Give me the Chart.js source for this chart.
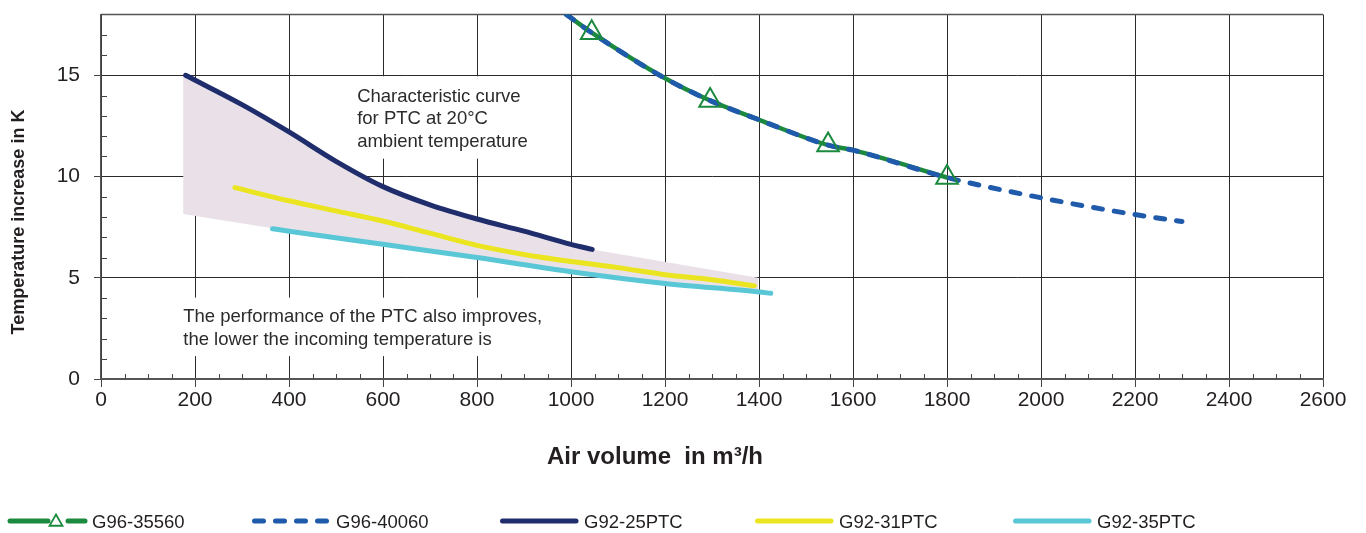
<!DOCTYPE html>
<html>
<head>
<meta charset="utf-8">
<script src="https://cdn.jsdelivr.net/npm/chart.js@4/dist/chart.umd.min.js"></script>
<style>
    html, body { margin: 0; padding: 0; background: #fff; }
    #wrap { width: 1366px; height: 533px; position: relative; }
</style>
</head>
<body>
<div id="wrap"><canvas id="ptcChart"></canvas></div>
<script>
// axis ticks
const xTicks = [0, 200, 400, 600, 800, 1000, 1200, 1400, 1600, 1800, 2000, 2200, 2400, 2600];
const yTicks = [0, 5, 10, 15];

// series (air volume m3/h, temperature increase K)
const g9635560X = [990, 1044, 1200, 1296, 1400, 1547, 1600, 1800];
const g9635560Y = [18.0, 17.1, 14.85, 13.75, 12.8, 11.55, 11.3, 9.95];
const g9635560Marks = [1044, 1296, 1547, 1800];

const g9640060X = [990, 1044, 1200, 1296, 1400, 1547, 1600, 1800, 2000, 2200, 2300];
const g9640060Y = [18.0, 17.1, 14.85, 13.75, 12.8, 11.55, 11.3, 9.95, 8.95, 8.12, 7.78];

const g9225X = [180, 300, 400, 500, 600, 700, 800, 900, 1000, 1045];
const g9225Y = [15.0, 13.55, 12.2, 10.75, 9.5, 8.6, 7.9, 7.3, 6.65, 6.4];

const g9231X = [285, 400, 500, 600, 700, 800, 900, 1000, 1100, 1200, 1300, 1390];
const g9231Y = [9.45, 8.8, 8.3, 7.8, 7.2, 6.6, 6.15, 5.8, 5.5, 5.15, 4.9, 4.6];

const g9235X = [365, 400, 600, 800, 1000, 1200, 1400, 1425];
const g9235Y = [7.42, 7.3, 6.65, 6.0, 5.3, 4.72, 4.3, 4.23];

// shaded band (PTC characteristic area), outline going round
const bandX = [175, 180, 300, 400, 500, 600, 700, 800, 900, 1000, 1045, 1398, 1398, 1200, 1000, 800, 600, 365, 175];
const bandY = [15.0, 15.0, 13.55, 12.2, 10.75, 9.5, 8.6, 7.9, 7.3, 6.65, 6.4, 5.0, 4.4, 4.75, 5.3, 6.05, 6.7, 7.45, 8.15];

const toPoints = (xs, ys) => xs.map((v, i) => ({ x: v, y: ys[i] }));

const GREEN = '#1b8a3e';
const BLUE = '#1f5aab';
const NAVY = '#1f2d6c';
const YELLOW = '#ebe521';
const CYAN = '#5ac7d7';
const GRID = '#2a2a2a';
const TEXT = '#231f20';
const FONT = '"Liberation Sans", Arial, sans-serif';

const notes = [
    { x: 545, y: 13.7, lh: 22.5, lines: ['Characteristic curve', 'for PTC at 20°C', 'ambient temperature'],
      box: [530, 935, 14.95, 10.88] },
    { x: 175, y: 2.81, lh: 23.3, lines: ['The performance of the PTC also improves,', 'the lower the incoming temperature is'],
      box: [157, 966, 4.02, 1.13] }
];

const legendItems = [
    { label: 'G96-35560', color: GREEN, left: 8, marker: true },
    { label: 'G96-40060', color: BLUE, left: 252, dash: [9, 12] },
    { label: 'G92-25PTC', color: NAVY, left: 500 },
    { label: 'G92-31PTC', color: YELLOW, left: 755 },
    { label: 'G92-35PTC', color: CYAN, left: 1013 }
];

const chartDecor = {
    id: 'chartDecor',
    beforeDatasetsDraw(chart) {
        const { ctx, chartArea: a, scales: { x, y } } = chart;
        ctx.save();
        // blank the grid behind the notes
        ctx.fillStyle = '#fff';
        notes.forEach(n => {
            const l = x.getPixelForValue(n.box[0]), r = x.getPixelForValue(n.box[1]);
            const t = y.getPixelForValue(n.box[2]), b = y.getPixelForValue(n.box[3]);
            ctx.fillRect(l, t, r - l, b - t);
        });
        // minor ticks, pointing inwards
        ctx.strokeStyle = '#444';
        ctx.lineWidth = 1;
        ctx.beginPath();
        for (let v = 50; v < 2600; v += 50) {
            if (v % 200 === 0) continue;
            const px = Math.round(x.getPixelForValue(v)) + 0.5;
            ctx.moveTo(px, a.bottom);
            ctx.lineTo(px, a.bottom - 5);
        }
        for (let v = 1; v < 18; v++) {
            if (v % 5 === 0) continue;
            const py = Math.round(y.getPixelForValue(v)) + 0.5;
            ctx.moveTo(a.left, py);
            ctx.lineTo(a.left + 6, py);
        }
        ctx.stroke();
        // top frame
        ctx.strokeStyle = '#555';
        ctx.lineWidth = 1.5;
        ctx.beginPath();
        ctx.moveTo(a.left, a.top);
        ctx.lineTo(a.right, a.top);
        ctx.stroke();
        // notes
        ctx.fillStyle = '#2b2b2b';
        ctx.font = '18.5px ' + FONT;
        ctx.textBaseline = 'alphabetic';
        ctx.textAlign = 'left';
        notes.forEach(n => {
            const px = x.getPixelForValue(n.x), py = y.getPixelForValue(n.y);
            n.lines.forEach((s, i) => ctx.fillText(s, px, py + i * n.lh));
        });
        ctx.restore();
    },
    afterDraw(chart) {
        const { ctx } = chart;
        // axis titles
        ctx.save();
        ctx.fillStyle = TEXT;
        ctx.textAlign = 'center';
        ctx.textBaseline = 'middle';
        ctx.font = 'bold 24px ' + FONT;
        ctx.fillText('Air volume  in m³/h', 655, 457);
        ctx.font = 'bold 18px ' + FONT;
        ctx.translate(19, 222);
        ctx.rotate(-Math.PI / 2);
        ctx.fillText('Temperature increase in K', 0, 0);
        ctx.restore();

        // legend
        ctx.save();
        const ly = 521;
        ctx.lineWidth = 5;
        ctx.lineCap = 'round';
        legendItems.forEach(it => {
            ctx.strokeStyle = it.color;
            ctx.setLineDash(it.dash || []);
            ctx.beginPath();
            if (it.marker) {
                ctx.moveTo(it.left + 2, ly);
                ctx.lineTo(it.left + 40, ly);
                ctx.moveTo(it.left + 60, ly);
                ctx.lineTo(it.left + 77, ly);
                ctx.stroke();
                const cx = it.left + 48, cy = ly + 1, r = 7.5;
                ctx.lineWidth = 1.8;
                ctx.lineCap = 'butt';
                ctx.beginPath();
                for (let k = 0; k < 3; k++) {
                    const ang = k * 2 * Math.PI / 3;
                    const px = cx + Math.sin(ang) * r, py = cy - Math.cos(ang) * r;
                    if (k === 0) ctx.moveTo(px, py); else ctx.lineTo(px, py);
                }
                ctx.closePath();
                ctx.stroke();
                ctx.lineWidth = 5;
                ctx.lineCap = 'round';
            } else {
                ctx.moveTo(it.left + 2.5, ly);
                ctx.lineTo(it.left + 76, ly);
                ctx.stroke();
            }
            ctx.setLineDash([]);
            ctx.fillStyle = TEXT;
            ctx.font = '18.5px ' + FONT;
            ctx.textAlign = 'left';
            ctx.textBaseline = 'middle';
            ctx.fillText(it.label, it.left + 84, ly + 2);
        });
        ctx.restore();
    }
};

const lineSet = (label, xs, ys, color, order, extra) => Object.assign({
    label: label,
    data: toPoints(xs, ys),
    borderColor: color,
    backgroundColor: color,
    borderWidth: 5,
    borderCapStyle: 'round',
    pointRadius: 0,
    showLine: true,
    cubicInterpolationMode: 'monotone',
    order: order
}, extra || {});

new Chart(document.getElementById('ptcChart'), {
    type: 'scatter',
    data: {
        datasets: [
            {
                label: 'band',
                data: toPoints(bandX, bandY),
                showLine: true,
                borderWidth: 0,
                borderColor: 'rgba(0,0,0,0)',
                backgroundColor: '#e9e1e7',
                fill: 'shape',
                pointRadius: 0,
                tension: 0,
                order: 9
            },
            lineSet('G96-35560', g9635560X, g9635560Y, GREEN, 8, { borderWidth: 4.5 }),
            lineSet('G96-40060', g9640060X, g9640060Y, BLUE, 7, { borderDash: [9, 12] }),
            lineSet('G92-25PTC', g9225X, g9225Y, NAVY, 6),
            lineSet('G92-31PTC', g9231X, g9231Y, YELLOW, 5),
            lineSet('G92-35PTC', g9235X, g9235Y, CYAN, 4),
            {
                label: 'G96-35560 markers',
                data: toPoints(g9635560X, g9635560Y),
                showLine: false,
                pointStyle: 'triangle',
                pointRadius: g9635560X.map(v => g9635560Marks.includes(v) ? 12.5 : 0),
                pointBorderColor: GREEN,
                pointBackgroundColor: 'rgba(0,0,0,0)',
                pointBorderWidth: 2,
                order: 1
            }
        ]
    },
    options: {
        responsive: true,
        maintainAspectRatio: false,
        animation: false,
        events: [],
        layout: {
            padding: { left: 0, right: 43, top: 12, bottom: 54 }
        },
        plugins: {
            legend: { display: false },
            tooltip: { enabled: false },
            title: { display: false }
        },
        scales: {
            x: {
                type: 'linear',
                min: 0,
                max: 2600,
                afterBuildTicks: scale => { scale.ticks = xTicks.map(v => ({ value: v })); },
                afterFit: scale => {
                    scale.height = 100;
                    scale.paddingLeft = 0;
                    scale.paddingRight = 0;
                },
                grid: {
                    color: GRID,
                    lineWidth: 1,
                    tickLength: 8,
                    tickColor: '#444'
                },
                border: { display: true, color: '#555', width: 2 },
                ticks: {
                    autoSkip: false,
                    maxRotation: 0,
                    padding: 1,
                    color: TEXT,
                    font: { family: FONT, size: 21 },
                    callback: v => String(v)
                }
            },
            y: {
                type: 'linear',
                min: 0,
                max: 18,
                afterBuildTicks: scale => { scale.ticks = yTicks.map(v => ({ value: v })); },
                afterFit: scale => {
                    scale.width = 101;
                    scale.paddingTop = 0;
                    scale.paddingBottom = 0;
                },
                grid: {
                    color: ctx => ctx.tick && ctx.tick.value === 0 ? '#555' : GRID,
                    lineWidth: 1,
                    tickLength: 7,
                    tickColor: '#444'
                },
                border: { display: true, color: '#555', width: 1.5 },
                ticks: {
                    padding: 14,
                    color: TEXT,
                    font: { family: FONT, size: 21 },
                    callback: v => String(v)
                }
            }
        }
    },
    plugins: [chartDecor]
});
</script>
</body>
</html>
